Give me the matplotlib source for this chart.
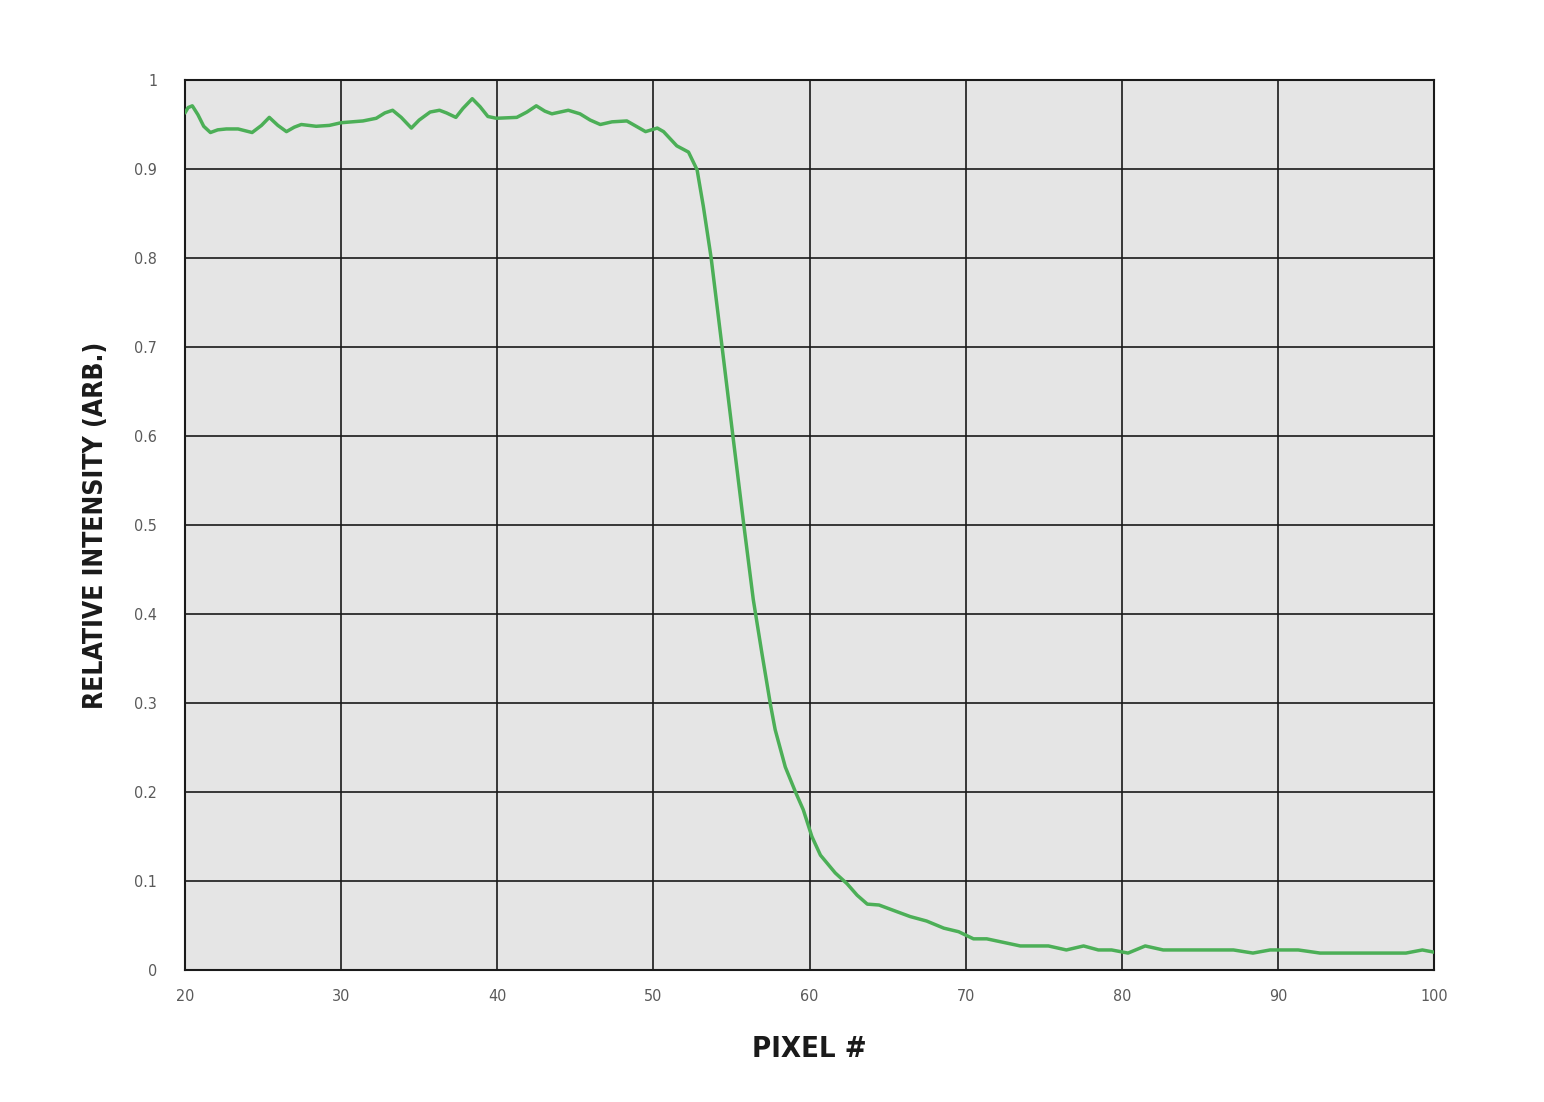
import matplotlib
matplotlib.use("Agg")
import matplotlib.pyplot as plt
from matplotlib import font_manager

# pixel position vs relative intensity
pixel = [20.0, 20.2, 20.47, 20.83, 21.2, 21.63, 22.1, 22.65, 23.4, 24.3, 24.9,
         25.4, 25.95, 26.5, 27.0, 27.45, 28.4, 29.25, 30.0, 31.4, 32.25, 32.8,
         33.3, 33.85, 34.5, 35.0, 35.7, 36.3, 36.75, 37.35, 37.8, 38.4, 38.9,
         39.4, 39.95, 41.25, 41.9, 42.5, 43.05, 43.5, 44.55, 45.3, 45.95, 46.6,
         47.35, 48.3, 48.7, 49.5, 50.25, 50.65, 51.5, 52.25, 52.8, 53.2, 53.7,
         54.4, 55.1, 55.8, 56.4, 56.95, 57.5, 57.8, 58.45, 59.1, 59.6, 60.15,
         60.7, 61.65, 62.4, 63.05, 63.7, 64.45, 65.6, 66.45, 67.5, 68.6, 69.55,
         70.5, 71.35, 73.5, 75.3, 76.45, 77.55, 78.5, 79.35, 80.4, 81.5, 82.65,
         87.15, 88.4, 89.5, 91.3, 92.7, 98.2, 99.25, 100.0]
intensity = [0.963, 0.969, 0.971, 0.961, 0.948, 0.941, 0.944, 0.945, 0.945,
             0.941, 0.949, 0.958, 0.949, 0.942, 0.947, 0.950, 0.948, 0.949,
             0.952, 0.954, 0.957, 0.963, 0.966, 0.958, 0.946, 0.955, 0.964,
             0.966, 0.963, 0.958, 0.968, 0.979, 0.970, 0.959, 0.957, 0.958,
             0.964, 0.971, 0.965, 0.962, 0.966, 0.962, 0.955, 0.950, 0.953,
             0.954, 0.950, 0.942, 0.946, 0.942, 0.926, 0.919, 0.899, 0.858,
             0.800, 0.700, 0.599, 0.499, 0.416, 0.356, 0.298, 0.270, 0.228,
             0.200, 0.180, 0.150, 0.129, 0.109, 0.097, 0.084, 0.074, 0.073,
             0.0655, 0.060, 0.055, 0.047, 0.043, 0.035, 0.035, 0.027, 0.027,
             0.0225, 0.027, 0.0225, 0.0225, 0.019, 0.027, 0.0225, 0.0225,
             0.019, 0.0225, 0.0225, 0.019, 0.019, 0.0225, 0.020]

x_ticks = [20, 30, 40, 50, 60, 70, 80, 90, 100]
y_ticks = [0, 0.1, 0.2, 0.3, 0.4, 0.5, 0.6, 0.7, 0.8, 0.9, 1]
y_tick_labels = ["0", "0.1", "0.2", "0.3", "0.4", "0.5", "0.6", "0.7", "0.8", "0.9", "1"]

# pick a narrow font if one is around
family = "DejaVu Sans"
try:
    font_manager.findfont(font_manager.FontProperties(family="Liberation Sans Narrow"),
                          fallback_to_default=False)
    family = "Liberation Sans Narrow"
except Exception:
    pass
plt.rcParams["font.family"] = [family, "DejaVu Sans"]
plt.rcParams["font.stretch"] = "condensed"

fig = plt.figure(figsize=(15.44, 11.02), dpi=100)
ax = fig.add_axes([0.1198, 0.1198, 0.8090, 0.8076])
ax.set_facecolor("#e5e5e5")

ax.plot(pixel, intensity, color="#4caf57", linewidth=2.5,
        solid_joinstyle="round", solid_capstyle="round", zorder=3)

ax.set_xlim(20, 100)
ax.set_ylim(0, 1)
ax.set_xticks(x_ticks)
ax.set_yticks(y_ticks)
ax.set_yticklabels(y_tick_labels)
ax.grid(True, color="#1a1a1a", linewidth=1.2, zorder=1)
ax.set_axisbelow(True)
for s in ax.spines.values():
    s.set_color("#1a1a1a")
    s.set_linewidth(1.5)

ax.tick_params(length=0, labelsize=11.5, labelcolor="#5a5a5a")
ax.tick_params(axis="y", pad=20)
ax.tick_params(axis="x", pad=14)

ax.set_xlabel("PIXEL #", fontsize=21, fontweight="bold", color="#1a1a1a", labelpad=22)
ax.set_ylabel("RELATIVE INTENSITY (ARB.)", fontsize=19, fontweight="bold",
              color="#1a1a1a", labelpad=18)

fig.savefig("out.png", dpi=100, facecolor="white")
